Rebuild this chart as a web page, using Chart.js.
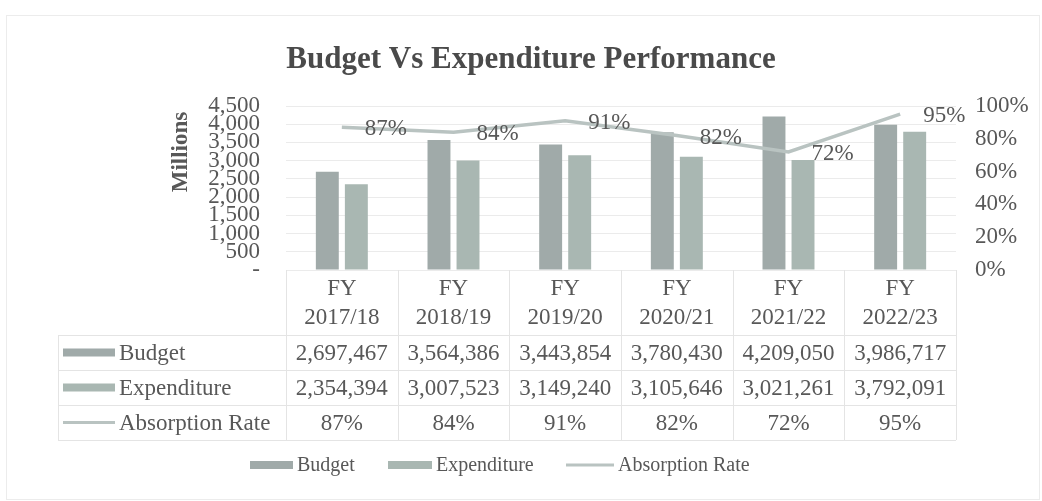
<!DOCTYPE html>
<html><head><meta charset="utf-8">
<script src="https://cdn.jsdelivr.net/npm/chart.js@4.4.1/dist/chart.umd.min.js"></script>
<style>html,body{margin:0;padding:0;background:#fff;}canvas{display:block}</style>
</head><body>
<canvas id="c" width="1042" height="501"></canvas>
<script>
const fiscalYears = ["2017/18","2018/19","2019/20","2020/21","2021/22","2022/23"];
const budget = [2697467,3564386,3443854,3780430,4209050,3986717];
const expenditure = [2354394,3007523,3149240,3105646,3021261,3792091];
const absorptionRate = [87,84,91,82,72,95];
const seriesNames = ["Budget","Expenditure","Absorption Rate"];
const chartTitle = "Budget Vs Expenditure Performance";
const leftAxisTitle = "Millions";

const FONT = '"Liberation Serif","Times New Roman",serif';
const TXT = '#585858';
const C_BUD = '#a0aaa9', C_EXP = '#a9b7b2', C_LINE = '#b9c3c1';
const GRID = '#ebebeb';

const fmt = v => v.toLocaleString('en-US');

const extras = {
  id: 'extras',
  afterDraw(chart) {
    const ctx = chart.ctx;
    const x = chart.scales.x, ca = chart.chartArea;
    ctx.save();
    // outer frame
    ctx.strokeStyle = '#ececec'; ctx.lineWidth = 1;
    ctx.strokeRect(6.5, 15.5, 1033, 484);
    // title
    ctx.fillStyle = '#4a4a4a';
    ctx.font = 'bold 31px ' + FONT;
    ctx.textAlign = 'center'; ctx.textBaseline = 'middle';
    ctx.fillText(chartTitle, 531, 60);
    // axis title
    ctx.save();
    ctx.translate(181, 152); ctx.rotate(-Math.PI/2);
    ctx.font = 'bold 23px ' + FONT; ctx.fillStyle = TXT;
    ctx.fillText(leftAxisTitle, 0, 0);
    ctx.restore();
    // line data labels
    const lm = chart.getDatasetMeta(2);
    ctx.font = '23px ' + FONT; ctx.fillStyle = TXT;
    ctx.textAlign = 'left'; ctx.textBaseline = 'middle';
    lm.data.forEach((p, i) => ctx.fillText(absorptionRate[i] + '%', p.x + 23, p.y + 2));
    // data table
    const n = fiscalYears.length;
    const colW = (ca.right - ca.left) / n;
    const rowTop = 335, rowH = 35, tableLeft = 58;
    ctx.strokeStyle = '#e4e4e4'; ctx.lineWidth = 1;
    ctx.beginPath();
    for (let r = 0; r <= 3; r++) {
      const yy = Math.round(rowTop + r * rowH) + 0.5;
      ctx.moveTo(tableLeft, yy); ctx.lineTo(ca.right, yy);
    }
    for (let i = 0; i <= n; i++) {
      const xx = Math.round(ca.left + i * colW) + 0.5;
      ctx.moveTo(xx, ca.bottom); ctx.lineTo(xx, rowTop + 3 * rowH);
    }
    ctx.moveTo(tableLeft + 0.5, rowTop); ctx.lineTo(tableLeft + 0.5, rowTop + 3 * rowH);
    ctx.stroke();
    const rows = [budget.map(fmt), expenditure.map(fmt), absorptionRate.map(v => v + '%')];
    const colors = [C_BUD, C_EXP, C_LINE];
    ctx.font = '23px ' + FONT;
    rows.forEach((vals, r) => {
      const cy = rowTop + r * rowH + rowH / 2;
      ctx.fillStyle = colors[r];
      if (r < 2) ctx.fillRect(63, cy - 4, 52, 8); else ctx.fillRect(63, cy - 1.5, 52, 3);
      ctx.fillStyle = TXT; ctx.textAlign = 'left';
      ctx.fillText(seriesNames[r], 119, cy + 1);
      ctx.textAlign = 'center';
      vals.forEach((v, i) => ctx.fillText(v, x.getPixelForValue(i), cy + 1));
    });
    // legend
    const ly = 465;
    ctx.font = '20px ' + FONT; ctx.textAlign = 'left'; ctx.fillStyle = TXT;
    const leg = [[250, 293, 297, 0], [388, 432, 436, 1], [566, 614, 618, 2]];
    leg.forEach(([a, b, t, k]) => {
      ctx.fillStyle = colors[k];
      if (k < 2) ctx.fillRect(a, ly - 4, b - a, 8); else ctx.fillRect(a, ly - 1.5, b - a, 3);
      ctx.fillStyle = TXT;
      ctx.fillText(seriesNames[k], t, ly + 1);
    });
    ctx.restore();
  }
};

new Chart(document.getElementById('c'), {
  data: {
    labels: fiscalYears.map(y => ['FY', y]),
    datasets: [
      { type: 'bar', label: seriesNames[0], data: budget, backgroundColor: C_BUD, yAxisID: 'y', order: 2,
        barPercentage: 0.79, categoryPercentage: 0.52 },
      { type: 'bar', label: seriesNames[1], data: expenditure, backgroundColor: C_EXP, yAxisID: 'y', order: 2,
        barPercentage: 0.79, categoryPercentage: 0.52 },
      { type: 'line', label: seriesNames[2], data: absorptionRate, borderColor: C_LINE, borderWidth: 3.5,
        pointRadius: 0, tension: 0, yAxisID: 'y1', order: 0 }
    ]
  },
  options: {
    responsive: false, animation: false, devicePixelRatio: 1,
    layout: { padding: { top: 106, bottom: 167, left: 0, right: 0 } },
    plugins: { legend: { display: false }, tooltip: { enabled: false }, title: { display: false } },
    scales: {
      x: {
        offset: true,
        grid: { display: false, drawTicks: false }, border: { display: false },
        ticks: { font: { family: FONT, size: 23, lineHeight: 1.26 }, color: TXT, padding: 4, maxRotation: 0, autoSkip: false },
        afterFit(s) { s.height = 64; }
      },
      y: {
        position: 'left', min: 0, max: 4500000,
        grid: { color: GRID, drawTicks: false }, border: { display: false },
        ticks: { stepSize: 500000, autoSkip: false, padding: 26, color: TXT,
          font: { family: FONT, size: 23 },
          callback: v => v === 0 ? '-' : fmt(v / 1000) },
        afterFit(s) { s.width = 286; }
      },
      y1: {
        position: 'right', min: 0, max: 100,
        grid: { display: false, drawTicks: false }, border: { display: false },
        ticks: { stepSize: 20, autoSkip: false, padding: 19, color: TXT,
          font: { family: FONT, size: 23 }, callback: v => v + '%' },
        afterFit(s) { s.width = 86; }
      }
    }
  },
  plugins: [extras]
});
</script>
</body></html>
